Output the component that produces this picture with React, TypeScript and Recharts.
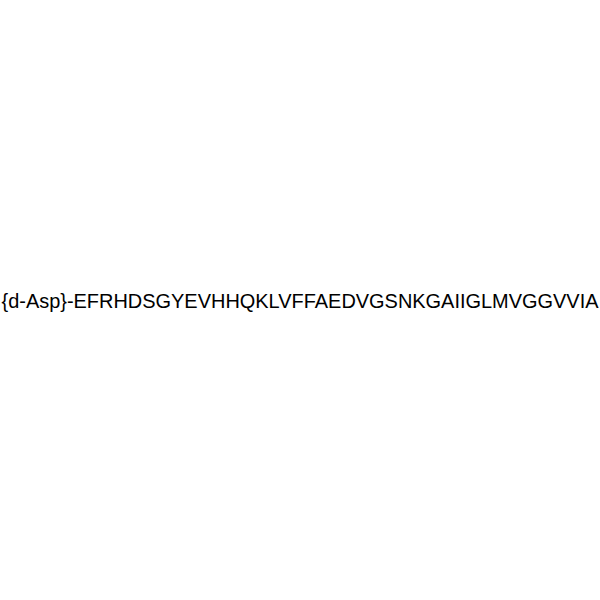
import { LineChart, XAxis, YAxis, Customized } from 'recharts';

// the picture holds a single peptide sequence label and no marks
const sequenceParts = ['{d-Asp}', 'EFRHDSGYEVHHQKLVFFAEDVGSNKGAIIGLMVGGVVIA'];
const points: { x: number; y: number }[] = [];

const label = sequenceParts.join('-');

function SequenceLabel({ width }: { width?: number }) {
  const w = width ?? 600;
  return (
    <text
      x={w / 2}
      y={308}
      textAnchor="middle"
      fontFamily="'Liberation Sans', Arial, sans-serif"
      fontSize={19.5}
      textLength={w - 3}
      lengthAdjust="spacingAndGlyphs"
      fill="#000"
    >
      {label}
    </text>
  );
}

export default function App() {
  return (
    <div style={{ position: 'fixed', top: 0, left: 0, width: 600, height: 600, background: '#fff' }}>
      <LineChart width={600} height={600} data={points} margin={{ top: 0, right: 0, bottom: 0, left: 0 }}>
        <XAxis dataKey="x" hide />
        <YAxis hide />
        <Customized component={SequenceLabel} />
      </LineChart>
    </div>
  );
}
